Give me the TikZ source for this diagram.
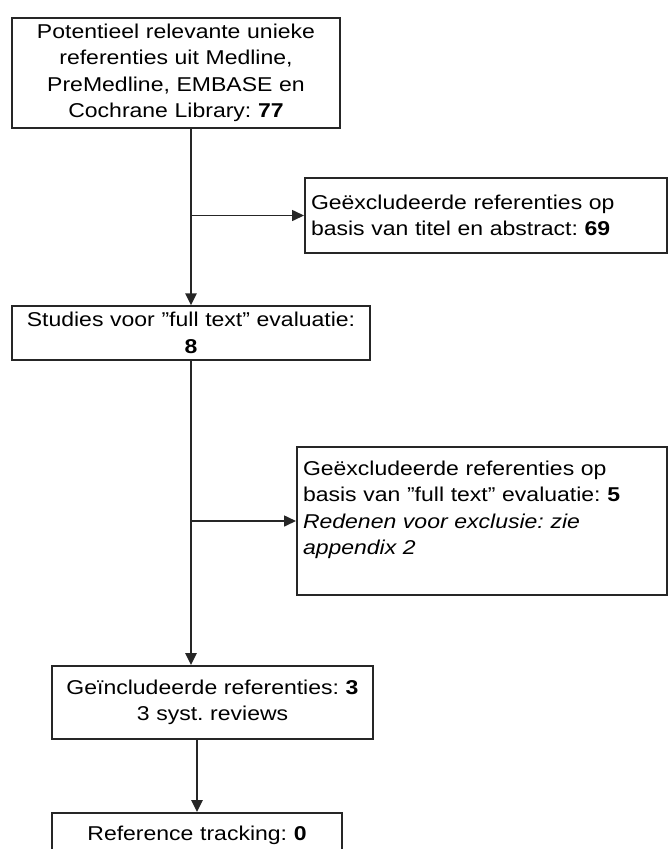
\documentclass[tikz,border=0pt]{standalone}
\usepackage{fontspec}
\setmainfont{Liberation Sans}[FakeStretch=1.15]
\usetikzlibrary{arrows.meta}
\frenchspacing
\tikzset{
  box/.style={draw=black!85, line width=2pt, rectangle, inner sep=6pt,
    font=\fontsize{20}{26.5}\selectfont},
  flow/.style={draw=black!85, line width=2.6pt, -{Triangle[length=12pt,width=11pt]}},
  side/.style={draw=black!85, line width=1.6pt, -{Triangle[length=12pt,width=11pt]}},
}

\begin{document}
\begin{tikzpicture}[x=1pt,y=-1pt]
  % Page frame
  \clip (0,0) rectangle (669,849);

  % Boxes
  \node[box, text width=316pt, minimum height=110pt, align=center] (search) at (176,73)
    {Potentieel relevante unieke\\referenties uit Medline,\\PreMedline, EMBASE en\\Cochrane Library: \textbf{77}};
  \node[box, text width=350pt, minimum height=75pt, align=left] (exclTitle) at (486,215.5)
    {Geëxcludeerde referenties op\\basis van titel en abstract: \textbf{69}};
  \node[box, text width=346pt, minimum height=50pt, align=center] (fulltext) at (191,333)
    {Studies voor "full text" evaluatie:\\\textbf{8}};
  \node[box, text width=358pt, minimum height=148pt, align=left] (exclFull) at (482,521)
    {Geëxcludeerde referenties op\\basis van "full text" evaluatie: \textbf{5}\\\textit{Redenen voor exclusie: zie}\\\textit{appendix 2}\\\mbox{}};
  \node[box, text width=309pt, minimum height=73pt, align=center] (included) at (212.5,702.5)
    {Geïncludeerde referenties: \textbf{3}\\3 syst. reviews};
  \node[box, text width=278pt, minimum height=44pt, align=center] (tracking) at (197,835)
    {Reference tracking: \textbf{0}};

  % Connectors
  \draw[flow] (search.south -| fulltext.north) -- (fulltext.north);
  \coordinate (split1) at (fulltext.north |- exclTitle.west);
  \draw[side] (split1) -- (exclTitle.west);
  \draw[flow] (fulltext.south) -- (fulltext.south |- included.north);
  \coordinate (split2) at (fulltext.south |- exclFull.west);
  \draw[side] (split2) -- (exclFull.west);
  \draw[flow] (included.south -| tracking.north) -- (tracking.north);
\end{tikzpicture}
\end{document}
